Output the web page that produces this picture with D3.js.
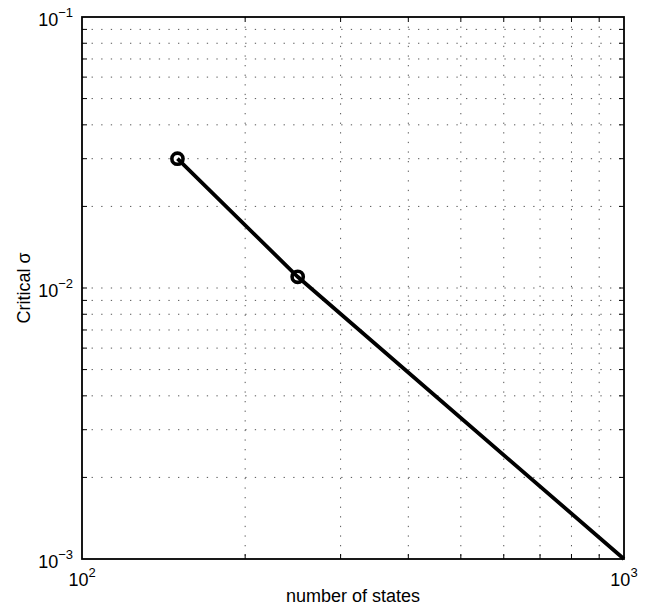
<!DOCTYPE html>
<html>
<head>
<meta charset="utf-8">
<script src="https://cdn.jsdelivr.net/npm/d3@7"></script>
<style>
  body { margin: 0; background: #fff; }
  text { font-family: "Liberation Sans", Arial, Helvetica, sans-serif; fill: #000; }
</style>
</head>
<body>
<script>
// data
const states = [150, 250, 1000];
const sigma = [0.03, 0.011, 0.001];
const markerIdx = [0, 1];
const xDomain = [100, 1000];
const yDomain = [0.001, 0.1];
const xTickExp = [2, 3];
const yTickExp = [-3, -2, -1];

const W = 649, H = 605;
const margin = {top: 17, right: 25, bottom: 46, left: 82};
const w = W - margin.left - margin.right;
const h = H - margin.top - margin.bottom;

const svg = d3.select("body").append("svg")
    .attr("width", W)
    .attr("height", H);

const g = svg.append("g").attr("transform", `translate(${margin.left},${margin.top})`);

const x = d3.scaleLog().domain(xDomain).range([0, w]);
const y = d3.scaleLog().domain(yDomain).range([h, 0]);

// grid (minor + major, dotted)
const xGrid = x.ticks().filter(d => d > xDomain[0] && d < xDomain[1]);
const yGrid = y.ticks().filter(d => d > yDomain[0] && d < yDomain[1]);

g.selectAll(".gx").data(xGrid).enter().append("line")
    .attr("x1", d => x(d)).attr("x2", d => x(d))
    .attr("y1", 0).attr("y2", h)
    .attr("stroke", "#555").attr("stroke-width", 1)
    .attr("stroke-dasharray", "1.3,8.3");

g.selectAll(".gy").data(yGrid).enter().append("line")
    .attr("y1", d => y(d)).attr("y2", d => y(d))
    .attr("x1", 0).attr("x2", w)
    .attr("stroke", "#555").attr("stroke-width", 1)
    .attr("stroke-dasharray", "1.3,8.3");

// small inward ticks on all sides
const tl = 5;
xGrid.forEach(d => {
  g.append("line").attr("x1", x(d)).attr("x2", x(d)).attr("y1", h).attr("y2", h - tl).attr("stroke", "#000");
  g.append("line").attr("x1", x(d)).attr("x2", x(d)).attr("y1", 0).attr("y2", tl).attr("stroke", "#000");
});
yGrid.forEach(d => {
  g.append("line").attr("y1", y(d)).attr("y2", y(d)).attr("x1", 0).attr("x2", tl).attr("stroke", "#000");
  g.append("line").attr("y1", y(d)).attr("y2", y(d)).attr("x1", w).attr("x2", w - tl).attr("stroke", "#000");
});

// frame
g.append("rect")
    .attr("width", w).attr("height", h)
    .attr("fill", "none").attr("stroke", "#000").attr("stroke-width", 1.8);

// line
const pts = states.map((s, i) => [s, sigma[i]]);
const line = d3.line().x(d => x(d[0])).y(d => y(d[1]));
g.append("path")
    .datum(pts)
    .attr("d", line)
    .attr("fill", "none")
    .attr("stroke", "#000")
    .attr("stroke-width", 3.8);

g.selectAll(".mk").data(markerIdx.map(i => pts[i])).enter().append("circle")
    .attr("cx", d => x(d[0])).attr("cy", d => y(d[1]))
    .attr("r", 5.6)
    .attr("fill", "none")
    .attr("stroke", "#000")
    .attr("stroke-width", 3.6);

// tick labels
xTickExp.forEach(e => {
  const t = g.append("text")
      .attr("x", x(Math.pow(10, e)))
      .attr("y", h + 27)
      .attr("text-anchor", "middle")
      .style("font-size", "18px");
  t.append("tspan").text("10");
  t.append("tspan").attr("dy", -9).style("font-size", "13px").text(e);
});

yTickExp.forEach(e => {
  const t = g.append("text")
      .attr("x", -9)
      .attr("y", y(Math.pow(10, e)) + 9)
      .attr("text-anchor", "end")
      .style("font-size", "18px");
  t.append("tspan").text("10");
  t.append("tspan").attr("dy", -9).style("font-size", "13px").text("\u2212" + Math.abs(e));
});

// axis labels
g.append("text")
    .attr("x", w / 2)
    .attr("y", h + 43)
    .attr("text-anchor", "middle")
    .style("font-size", "18px")
    .text("number of states");

g.append("text")
    .attr("transform", `translate(${-52},${h / 2}) rotate(-90)`)
    .attr("text-anchor", "middle")
    .style("font-size", "18px")
    .text("Critical \u03c3");
</script>
</body>
</html>
